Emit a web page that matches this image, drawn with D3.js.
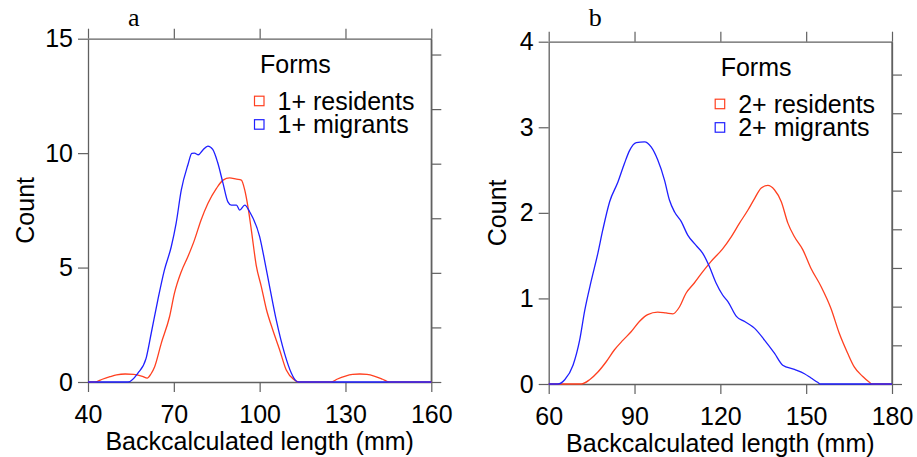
<!DOCTYPE html>
<html>
<head>
<meta charset="utf-8">
<script src="https://cdn.jsdelivr.net/npm/d3@7"></script>
<style>
  html, body { margin: 0; padding: 0; background: #fff; }
  svg { display: block; }
  text { font-family: "Liberation Sans", Arial, sans-serif; fill: #000; }
</style>
</head>
<body>
<svg id="chart" width="917" height="457"></svg>
<script>
// ---------- DATA ----------
const panelLabels = ["a", "b"];
const xTicksA = [40, 70, 100, 130, 160];
const yTicksA = [0, 5, 10, 15];
const xTicksB = [60, 90, 120, 150, 180];
const yTicksB = [0, 1, 2, 3, 4];
const rightTicksA = [0, 1, 2, 3, 4, 5, 6];
const rightTicksB = [0, 1, 2, 3, 4, 5, 6, 7, 8];
const rightMaxA = 6.29;
const rightMaxB = 8.85;
const legendTitle = "Forms";
const seriesNamesA = ["1+ residents", "1+ migrants"];
const seriesNamesB = ["2+ residents", "2+ migrants"];
const xTitle = "Backcalculated length (mm)";
const yTitle = "Count";

// [length (mm), count]
const residentsA = [
  [40,0],[42.4,0],[45,0.12],[47.7,0.23],[50,0.31],[53,0.35],[56,0.33],[59,0.25],[60.7,0.17],
  [62,0.35],[63.3,0.67],[65.6,1.69],[68.5,2.85],[70.2,3.87],[72.6,4.82],[74.9,5.47],[77.2,6.2],
  [79.5,7.07],[81.9,7.8],[84.9,8.46],[87.2,8.82],[89.5,8.92],[91.9,8.86],[93.6,8.82],[94.8,8.38],
  [95.9,7.66],[97.1,6.64],[98.8,5.1],[100.6,4.16],[102.3,3.2],[104.6,2.27],[107,1.4],[109.3,0.52],
  [112.2,0.09],[113.5,0],[125,0],[127,0.12],[130,0.26],[132.5,0.33],[135,0.35],[137.5,0.33],
  [140,0.26],[143,0.12],[145.3,0],[160,0]
];
const migrantsA = [
  [40,0],[54,0],[57.4,0.38],[60.3,1.03],[62.1,2.13],[64.4,3.58],[66.7,4.89],[69.1,5.91],
  [70.8,6.93],[72.6,8.38],[74.9,9.48],[76.3,9.99],[77.2,10.0],[78.6,9.93],[80.1,10.13],
  [81.9,10.31],[83.6,10.16],[85.3,9.6],[87.2,8.68],[88.9,7.87],[90.1,7.73],[91.9,7.73],
  [93,7.51],[94.8,7.73],[96.5,7.44],[100,6.35],[101.7,5.33],[103.5,4.16],[105.8,2.71],
  [108.7,1.25],[111.1,0.38],[112.6,0.06],[113.5,0],[160,0]
];
const residentsB = [
  [60,0],[71.4,0],[74.3,0.05],[77.2,0.14],[80.1,0.26],[83,0.4],[85.9,0.51],[88.8,0.61],
  [91.7,0.73],[94.6,0.81],[98.1,0.84],[101,0.83],[103.4,0.82],[105.7,0.9],[108,1.06],
  [110.9,1.18],[113.8,1.31],[116.7,1.43],[120.8,1.58],[123.8,1.72],[126.7,1.88],[129.6,2.03],
  [132,2.17],[134.3,2.29],[136.6,2.32],[138.9,2.27],[141.3,2.13],[143.6,1.88],[145.9,1.72],
  [148.8,1.57],[151.7,1.35],[155.2,1.14],[158.7,0.88],[161.6,0.59],[164.5,0.36],[166.8,0.2],
  [169.7,0.09],[172.1,0.02],[173,0],[180,0]
];
const migrantsB = [
  [60,0],[63.2,0],[65.6,0.05],[68.5,0.22],[70.8,0.51],[72.6,0.86],[74.9,1.21],[77.2,1.53],
  [78.9,1.8],[81.3,2.13],[84.2,2.36],[86.5,2.58],[88.3,2.73],[90.6,2.82],[93.5,2.83],
  [95.8,2.77],[98.1,2.62],[100.5,2.38],[102.2,2.15],[104,2.01],[106.3,1.9],[108.6,1.74],
  [111.5,1.62],[113.8,1.53],[116.2,1.37],[118.5,1.18],[120.8,1.04],[122.7,0.96],[125.6,0.79],
  [128.5,0.73],[132,0.65],[135.5,0.51],[138.9,0.36],[141.8,0.22],[145.9,0.17],[149.4,0.12],
  [151.7,0.07],[154,0.02],[155,0],[180,0]
];

// ---------- STYLE / LAYOUT ----------
const colors = ["#ff4020", "#1f1fff"];
const axisColor = "#606060";
const fontSize = 25;

const panels = [
  { label: panelLabels[0], left: 88, right: 431.3, top: 38.7, bottom: 382,
    xTicks: xTicksA, yTicks: yTicksA, rightTicks: rightTicksA, rightMax: rightMaxA,
    series: [residentsA, migrantsA], names: seriesNamesA, yTitleX: 33.5 },
  { label: panelLabels[1], left: 548.7, right: 892, top: 41.7, bottom: 384,
    xTicks: xTicksB, yTicks: yTicksB, rightTicks: rightTicksB, rightMax: rightMaxB,
    series: [residentsB, migrantsB], names: seriesNamesB, yTitleX: 506.3 }
];

const svg = d3.select("#chart");
const fmt = d3.format("d");

function styleAxis(g) {
  g.select(".domain").attr("stroke", axisColor).attr("stroke-width", 1.3);
  g.selectAll(".tick line").attr("stroke", axisColor).attr("stroke-width", 1.2);
  g.selectAll(".tick text").style("font-size", fontSize + "px")
    .style("font-family", '"Liberation Sans", Arial, sans-serif').attr("fill", "#000");
}

panels.forEach(p => {
  const x = d3.scaleLinear()
    .domain([p.xTicks[0], p.xTicks[p.xTicks.length - 1]])
    .range([p.left, p.right]);
  const y = d3.scaleLinear()
    .domain([p.yTicks[0], p.yTicks[p.yTicks.length - 1]])
    .range([p.bottom, p.top]);
  const yR = d3.scaleLinear().domain([0, p.rightMax]).range([p.bottom, p.top]);

  const g = svg.append("g");

  // bottom axis
  g.append("g").attr("transform", `translate(0,${p.bottom})`)
    .call(d3.axisBottom(x).tickValues(p.xTicks).tickFormat(fmt).tickSize(10).tickSizeOuter(0).tickPadding(13.5))
    .call(styleAxis);
  // top axis
  g.append("g").attr("transform", `translate(0,${p.top})`)
    .call(d3.axisTop(x).tickValues(p.xTicks).tickFormat("").tickSize(10).tickSizeOuter(0))
    .call(styleAxis);
  // left axis
  g.append("g").attr("transform", `translate(${p.left},0)`)
    .call(d3.axisLeft(y).tickValues(p.yTicks).tickFormat(fmt).tickSize(10).tickSizeOuter(0).tickPadding(5))
    .call(styleAxis);
  // right axis
  g.append("g").attr("transform", `translate(${p.right},0)`)
    .call(d3.axisRight(yR).tickValues(p.rightTicks).tickFormat("").tickSize(10).tickSizeOuter(0))
    .call(styleAxis);
  // right domain to full height
  g.append("line").attr("x1", p.right).attr("x2", p.right)
    .attr("y1", p.top).attr("y2", p.bottom)
    .attr("stroke", axisColor).attr("stroke-width", 1.3);

  // curves
  const line = d3.line().x(d => x(d[0])).y(d => y(d[1])).curve(d3.curveMonotoneX);
  p.series.forEach((s, i) => {
    g.append("path").datum(s)
      .attr("d", line)
      .attr("fill", "none")
      .attr("stroke", colors[i])
      .attr("stroke-width", 1.3);
  });

  // panel label
  g.append("text")
    .attr("x", p.left + 40).attr("y", 25.7)
    .style("font-family", '"Liberation Serif", "Times New Roman", serif')
    .style("font-size", "26px")
    .text(p.label);

  // legend
  const lx = p.left + 172, ly = p.top + 34;
  g.append("text").attr("x", lx).attr("y", ly)
    .style("font-size", fontSize + "px").text(legendTitle);
  p.names.forEach((n, i) => {
    const by = p.top + 71 + i * 23.5;
    g.append("rect")
      .attr("x", p.left + 166.5).attr("y", by - 13.5)
      .attr("width", 9.5).attr("height", 9.5)
      .attr("fill", "#fff")
      .attr("stroke", colors[i]).attr("stroke-width", 1.2);
    g.append("text").attr("x", p.left + 189.5).attr("y", by)
      .style("font-size", fontSize + "px").text(n);
  });

  // axis titles
  g.append("text")
    .attr("x", (p.left + p.right) / 2).attr("y", p.bottom + 67.5)
    .attr("text-anchor", "middle")
    .style("font-size", fontSize + "px").text(xTitle);
  g.append("text")
    .attr("transform", `translate(${p.yTitleX},${(p.top + p.bottom) / 2}) rotate(-90)`)
    .attr("text-anchor", "middle")
    .style("font-size", fontSize + "px").text(yTitle);
});
</script>
</body>
</html>
